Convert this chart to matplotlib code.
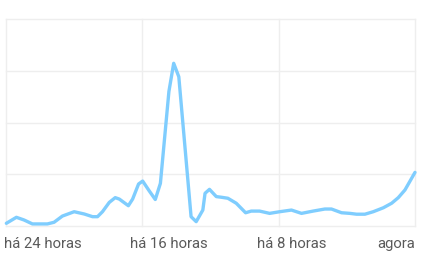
import matplotlib
matplotlib.use("Agg")
import matplotlib.pyplot as plt

# hours relative to now, and interest values (0-100 scale)
hours = [-23.98, -23.39, -22.94, -22.45, -21.57, -21.18, -20.69, -20.0, -19.41, -18.92,
         -18.63, -18.34, -17.94, -17.59, -17.35, -16.82, -16.57, -16.22, -15.98, -15.59,
         -15.24, -14.94, -14.44, -14.16, -13.86, -13.14, -12.84, -12.45, -12.32, -12.06,
         -11.66, -11.37, -10.98, -10.49, -9.94, -9.61, -9.12, -8.53, -7.94, -7.25,
         -6.66, -5.98, -5.29, -4.90, -4.31, -3.82, -3.43, -2.94, -2.45, -1.86,
         -1.37, -0.98, -0.59, 0.0]
values = [1.3, 4.2, 2.9, 1.0, 1.0, 1.8, 4.8, 6.9, 5.8, 4.5,
          4.5, 6.9, 11.4, 13.7, 13.0, 9.8, 13.0, 20.3, 21.7, 16.9,
          12.8, 20.6, 65.0, 78.6, 72.1, 4.5, 2.1, 7.7, 15.8, 17.7,
          14.2, 13.9, 13.4, 11.0, 6.4, 7.2, 7.2, 6.1, 6.9, 7.7,
          6.1, 7.2, 8.2, 8.2, 6.4, 6.1, 5.7, 5.7, 6.9, 8.8,
          11.0, 13.7, 17.4, 25.9]

grid_x = [-24, -16, -8, 0]
grid_y = [0, 25, 50, 75, 100]
tick_labels = ["há 24 horas", "há 16 horas", "há 8 horas", "agora"]
label_pos = [-24.12, -14.44, -7.21, 0.0]
label_ha = ["left", "center", "center", "right"]

W, H = 426, 269
fig = plt.figure(figsize=(W / 100, H / 100), dpi=100)
ax = fig.add_axes([6 / W, (H - 226) / H, (415 - 6) / W, (226 - 19) / H])

ax.set_xlim(-24, 0)
ax.set_ylim(0, 100)
for s in ax.spines.values():
    s.set_visible(False)
ax.set_xticks([])
ax.set_yticks([])

for gx in grid_x:
    ax.axvline(gx, color="#eeeeee", lw=1.0, zorder=1, clip_on=False)
for gy in grid_y:
    ax.axhline(gy, color="#eeeeee", lw=1.0, zorder=1, clip_on=False)

ax.plot(hours, values, color="#7fcdfe", lw=2.4, solid_joinstyle="round",
        solid_capstyle="round", zorder=3, clip_on=False)

trans = ax.get_xaxis_transform()
for lab, pos, ha in zip(tick_labels, label_pos, label_ha):
    ax.text(pos, -0.106, lab, transform=trans, ha=ha, va="baseline",
            fontsize=10.7, color="#5a5a5a", family=["Roboto", "DejaVu Sans"])

fig.savefig("out.png", dpi=100, facecolor="white")
